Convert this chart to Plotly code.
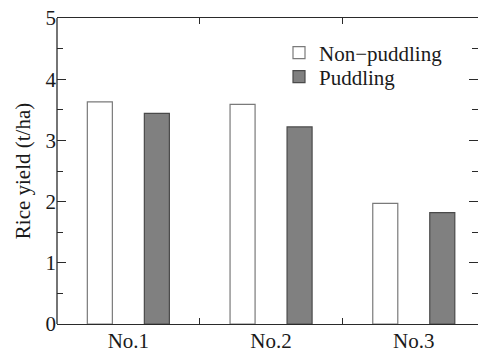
import plotly.graph_objects as go

categories = ["No.1", "No.2", "No.3"]
non_puddling = [3.63, 3.59, 1.97]
puddling = [3.44, 3.22, 1.82]
y_ticks = [0, 1, 2, 3, 4, 5]

FONT = "Liberation Serif"
AX = "#2a2a2a"
TXT = "#1a1a1a"

fig = go.Figure()
fig.add_trace(go.Bar(
    x=categories, y=non_puddling, name="Non\u2212puddling", legend="legend",
    marker=dict(color="white", line=dict(color="#7a7a7a", width=1.2)),
))
fig.add_trace(go.Bar(
    x=categories, y=puddling, name="Puddling", legend="legend2",
    marker=dict(color="#808080", line=dict(color="#4a4a4a", width=1.2)),
))

H_PLOT = 306
leg = dict(xanchor="left", yanchor="middle", bgcolor="rgba(0,0,0,0)",
           font=dict(family=FONT, size=21, color=TXT), borderwidth=0)
fig.update_layout(
    width=478, height=350,
    margin=dict(l=57, r=0, t=18, b=26, autoexpand=False),
    barmode="group", bargap=0.201, bargroupgap=0.561,
    paper_bgcolor="white", plot_bgcolor="white",
    font=dict(family=FONT, size=21, color=TXT),
    legend=dict(x=(279 - 57) / 421, y=(324 - 53) / H_PLOT, **leg),
    legend2=dict(x=(279 - 57) / 421, y=(324 - 77) / H_PLOT, **leg),
    showlegend=True,
)
fig.update_xaxes(
    type="category", range=[-0.5, 2.45], automargin=False,
    showline=True, linecolor=AX, linewidth=1.3, showgrid=False, zeroline=False,
    ticks="inside", tickson="boundaries", ticklen=6, tickcolor=AX, tickwidth=1,
    mirror="allticks", ticklabelstandoff=-2, ticklabeloverflow="allow",
    tickfont=dict(family=FONT, size=21, color=TXT),
)
fig.update_yaxes(
    range=[0, 5], tickvals=y_ticks, automargin=False,
    showline=False, showgrid=False, zeroline=False,
    ticks="inside", ticklen=9, tickcolor=AX, tickwidth=1,
    mirror="allticks", ticklabelstandoff=0, ticklabeloverflow="allow",
    minor=dict(dtick=0.5, ticks="inside", ticklen=6, tickcolor=AX, tickwidth=1, showgrid=False),
    tickfont=dict(family=FONT, size=21, color=TXT),
    title=dict(text="Rice yield (t/ha)", font=dict(family=FONT, size=21, color=TXT), standoff=9),
)
# left frame line (the right one lies just outside the picture in the reference)
fig.add_shape(type="line", xref="paper", yref="paper", x0=0, y0=0, x1=0, y1=1,
              line=dict(color=AX, width=1.3))

fig.write_html(
    "out.html",
    config={"displayModeBar": False},
    post_script="document.body.style.margin='0';document.body.style.overflow='hidden';",
)
